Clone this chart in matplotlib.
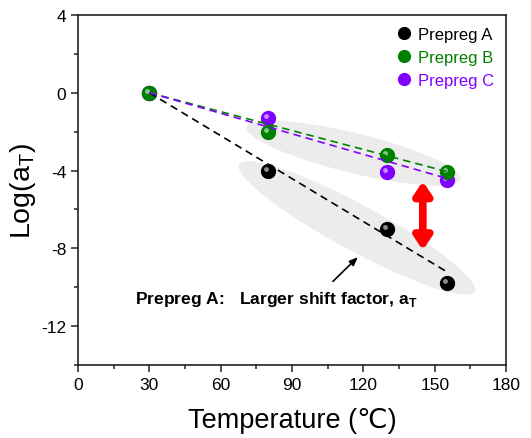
import matplotlib
matplotlib.use("Agg")
import matplotlib.pyplot as plt
from matplotlib.patches import Ellipse
from matplotlib.transforms import ScaledTranslation, offset_copy
from matplotlib.ticker import MultipleLocator

plt.rcParams['font.family'] = ['Liberation Sans', 'DejaVu Sans']
plt.rcParams['axes.unicode_minus'] = False

# data
temp_a = [30, 80, 130, 155]
log_a = [0, -4.0, -7.0, -9.8]
temp_b = [30, 80, 130, 155]
log_b = [0, -2.0, -3.2, -4.1]
temp_c = [30, 80, 130, 155]
log_c = [0, -1.3, -4.1, -4.5]

# fitted dashed lines (start, end)
fit_x = [30, 155]
fit_a = [0, -9.2]
fit_b = [0, -4.05]
fit_c = [0, -4.4]

names = ['Prepreg A', 'Prepreg B', 'Prepreg C']
colors = ['black', '#008000', '#8000ff']
layer = [3.0, 3.4, 3.2]  # B drawn over C

fig = plt.figure(figsize=(5.31, 4.39), dpi=100)
ax = fig.add_axes([0.1469, 0.1663, 0.8061, 0.7973])

# gray highlight ellipses (size in inches, angle in display)
def blob(cx, cy, w, h, ang):
    tr = fig.dpi_scale_trans + ScaledTranslation(cx, cy, ax.transData)
    e = Ellipse((0, 0), w, h, angle=ang, transform=tr,
                facecolor='#ececec', edgecolor='none', zorder=0)
    ax.add_patch(e)

blob(115.9, -3.1, 2.2, 0.40, -13.7)
blob(117.3, -6.95, 2.68, 0.46, -28.4)

series = [(temp_a, log_a), (temp_b, log_b), (temp_c, log_c)]
hl = offset_copy(ax.transData, fig=fig, x=-2, y=2, units='dots')
handles = []
for (x, y), c, n, z in zip(series, colors, names, layer):
    h, = ax.plot(x, y, 'o', ms=10, color=c, mec=c, zorder=z, label=n)
    ax.plot(x, y, 'o', ms=3.5, color='white', mec='none', alpha=0.55,
            transform=hl, zorder=z + 0.05)
    handles.append(h)

for fy, c in zip([fit_a, fit_b, fit_c], colors):
    ax.plot(fit_x, fy, ls=(0, (4.5, 3)), color=c, lw=1.2, zorder=4)

# red double arrow
ax.annotate('', xy=(145, -4.55), xytext=(145, -8.1),
            arrowprops=dict(arrowstyle='<|-|>,head_length=0.75,head_width=0.5',
                            color='red', lw=5.5, shrinkA=0, shrinkB=0),
            zorder=5)

# black annotation arrow + text
ax.annotate('', xy=(117.7, -8.45), xytext=(107.2, -9.7),
            arrowprops=dict(arrowstyle='-|>,head_length=0.5,head_width=0.2',
                            color='black', lw=1.2, shrinkA=0, shrinkB=0))
ax.text(24, -10.6, 'Prepreg A:   Larger shift factor, a$_\\mathregular{T}$',
        fontsize=12.6, fontweight='bold', va='center', ha='left')

ax.set_xlim(0, 180)
ax.set_ylim(-14, 4)
ax.xaxis.set_major_locator(MultipleLocator(30))
ax.xaxis.set_minor_locator(MultipleLocator(15))
ax.yaxis.set_major_locator(MultipleLocator(4))
ax.yaxis.set_minor_locator(MultipleLocator(2))
ax.tick_params(which='major', direction='out', length=5, width=1.1,
               labelsize=12.5, colors='#222222', labelcolor='black')
ax.tick_params(which='minor', direction='out', length=3, width=1.1, colors='#222222')
for s in ax.spines.values():
    s.set_linewidth(1.2)
    s.set_color('#222222')

ax.set_xlabel('Temperature (℃)', fontsize=19.5, labelpad=11)
ax.set_ylabel('Log(a$_\\mathregular{T}$)', fontsize=20.5, labelpad=2)

leg = ax.legend(handles=handles, loc='upper right', frameon=False, fontsize=12,
                handletextpad=0.35, borderaxespad=0.3, labelspacing=0.5,
                handlelength=1.0, markerscale=0.85)
for t, c in zip(leg.get_texts(), colors):
    t.set_color(c)

fig.savefig('out.png', dpi=100)
